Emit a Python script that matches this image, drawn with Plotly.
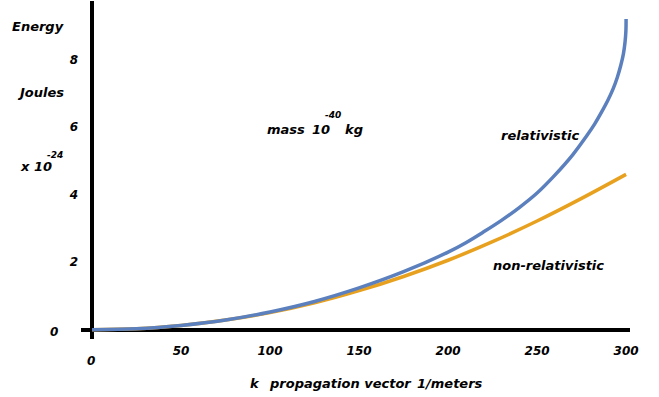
import plotly.graph_objects as go

# Data
k_rel = [0, 25, 50, 75, 100, 125, 150, 175, 200, 210, 220, 230, 240, 250, 260,
         270, 278, 282.4, 286.2, 289.7, 292.7, 295.1, 297.0, 298.5, 299.4, 299.9, 300]
e_rel = [0, 0.03, 0.13, 0.29, 0.53, 0.84, 1.24, 1.72, 2.3, 2.58, 2.9, 3.24, 3.62,
         4.05, 4.58, 5.18, 5.75, 6.095, 6.44, 6.785, 7.13, 7.475, 7.82, 8.165,
         8.51, 8.855, 9.2]

k_nonrel = [0, 25, 50, 75, 100, 125, 150, 175, 200, 225, 250, 275, 300]
e_nonrel = [0, 0.03, 0.13, 0.29, 0.51, 0.80, 1.16, 1.58, 2.06, 2.61, 3.22, 3.89, 4.6]

x_ticks = [50, 100, 150, 200, 250, 300]
y_ticks = [2, 4, 6, 8]

BLUE = "#5B80BD"
ORANGE = "#E8A11F"
FONT = "DejaVu Sans"

fig = go.Figure()
fig.add_trace(go.Scatter(x=k_nonrel, y=e_nonrel, mode="lines",
                         line=dict(color=ORANGE, width=3.5, shape="spline"),
                         showlegend=False, hoverinfo="skip"))
fig.add_trace(go.Scatter(x=k_rel, y=e_rel, mode="lines",
                         line=dict(color=BLUE, width=3.5, shape="spline", smoothing=1),
                         showlegend=False, hoverinfo="skip"))

tickfont = dict(family=FONT, size=12, color="black", weight="bold", style="italic")

fig.update_layout(
    width=659, height=397,
    margin=dict(l=81, r=29, t=1, b=58),
    paper_bgcolor="white", plot_bgcolor="white",
    xaxis=dict(range=[-6.2, 302.2], tickvals=x_ticks, ticktext=[str(v) for v in x_ticks],
               showgrid=False, zeroline=True, zerolinecolor="black", zerolinewidth=4,
               showline=False, ticks="", tickfont=tickfont, ticklabelstandoff=3),
    yaxis=dict(range=[-0.27, 9.73], tickvals=y_ticks, ticktext=[str(v) for v in y_ticks],
               showgrid=False, zeroline=True, zerolinecolor="black", zerolinewidth=4,
               showline=False, ticks="", tickfont=tickfont, ticklabelstandoff=2),
)

L, R, T, B = 81, 630, 1, 339


def px(xp, yp, s, size=13):
    fig.add_annotation(x=(xp - L) / (R - L), y=(B - yp) / (B - T), xref="paper", yref="paper",
                       text=s, showarrow=False, xanchor="center", yanchor="middle",
                       font=dict(family=FONT, size=size, color="black",
                                 weight="bold", style="italic"))


px(38, 26, "Energy")
px(41, 92, "Joules")
px(36, 167, "x 10")
px(55, 155, "-24", size=9)
px(54, 332, "0", size=12)
px(91, 361, "0", size=12)
px(286, 129, "mass")
px(321, 129, "10")
px(333, 115, "-40", size=9)
px(354, 129, "kg")
px(540, 135, "relativistic")
px(548, 265, "non-relativistic")
px(255, 384, "k")
px(340, 384, "propagation vector")
px(450, 384, "1/meters")

fig.write_html("out.html", post_script="document.body.style.margin='0';",
               config={"displayModeBar": False})
